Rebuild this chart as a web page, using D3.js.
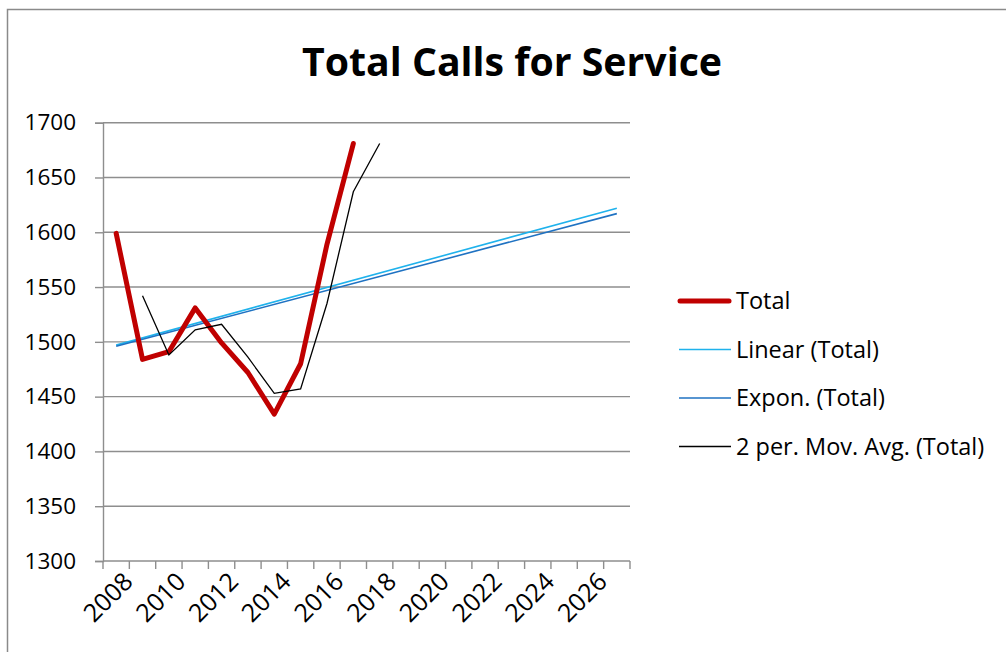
<!DOCTYPE html>
<html>
<head>
<meta charset="utf-8">
<script src="https://cdn.jsdelivr.net/npm/d3@7"></script>
<style>
  html, body { margin: 0; padding: 0; background: #fff; }
  svg { display: block; }
</style>
</head>
<body>
<svg id="chart" width="1006" height="652"></svg>
<script>
// ---- data ----
const categories = d3.range(2008, 2028);               // category axis 2008 … 2027
const tickLabels = ["2008","2010","2012","2014","2016","2018","2020","2022","2024","2026"];
const yTicks = [1300, 1350, 1400, 1450, 1500, 1550, 1600, 1650, 1700];

const totalYears  = [2008, 2009, 2010, 2011, 2012, 2013, 2014, 2015, 2016, 2017];
const totalValues = [1599, 1484, 1491, 1531, 1499, 1472, 1434, 1480, 1589, 1681];

const movAvgYears  = [2009, 2010, 2011, 2012, 2013, 2014, 2015, 2016, 2017, 2018];
const movAvgValues = [1542, 1488, 1511, 1516, 1486, 1453, 1457, 1535, 1637, 1681];

const trendYears   = [2008, 2027];
const linearValues = [1497, 1622];
const exponValues  = [1496, 1617];

const legendLabels = ["Total", "Linear (Total)", "Expon. (Total)", "2 per. Mov. Avg. (Total)"];

// ---- drawing ----
const svg = d3.select("#chart");
const FONT = "'Open Sans', 'Noto Sans', sans-serif";
const GRID = "#8e8e8e";

// outer frame
svg.append("rect").attr("x", 7.5).attr("y", 9.5).attr("width", 1010).attr("height", 660)
  .attr("fill", "none").attr("stroke", "#8a8a8a").attr("stroke-width", 1.5);

// title
svg.append("text").attr("x", 512).attr("y", 76).attr("text-anchor", "middle")
  .attr("font-family", FONT).attr("font-weight", "bold").attr("font-size", 40)
  .attr("textLength", 420).attr("lengthAdjust", "spacingAndGlyphs")
  .attr("fill", "#000").text("Total Calls for Service");

const x = d3.scaleBand().domain(categories).range([103, 630]);
const xc = d => x(d) + x.bandwidth() / 2;
const y = d3.scaleLinear().domain([1300, 1700]).range([561, 122.7]);

// gridlines
svg.append("g").selectAll("line").data(yTicks.filter(t => t > 1300)).join("line")
  .attr("x1", 103).attr("x2", 630).attr("y1", d => y(d)).attr("y2", d => y(d))
  .attr("stroke", GRID).attr("stroke-width", 1.4);

// y axis
const yAxis = d3.axisLeft(y).tickValues(yTicks).tickSize(8).tickPadding(19).tickFormat(d3.format("d"));
const gy = svg.append("g").attr("transform", "translate(103,0)").call(yAxis);
gy.select(".domain").attr("stroke", GRID).attr("stroke-width", 1.4);
gy.selectAll(".tick line").attr("stroke", GRID).attr("stroke-width", 1.4);
gy.selectAll(".tick text").attr("font-family", FONT).attr("font-size", 22.5).attr("fill", "#000");

// x axis: tick marks at category boundaries
const boundaries = categories.map(c => x(c)).concat([630]);
const gx = svg.append("g");
gx.append("line").attr("x1", 103).attr("x2", 630).attr("y1", y(1300)).attr("y2", y(1300))
  .attr("stroke", GRID).attr("stroke-width", 1.4);
gx.selectAll("line.tk").data(boundaries).join("line").attr("class", "tk")
  .attr("x1", d => d).attr("x2", d => d).attr("y1", y(1300)).attr("y2", y(1300) + 8)
  .attr("stroke", GRID).attr("stroke-width", 1.4);
gx.selectAll("text").data(tickLabels).join("text")
  .attr("transform", d => `translate(${xc(+d) + 12},${y(1300) + 16}) rotate(-45)`)
  .attr("text-anchor", "end").attr("dy", "0.35em")
  .attr("font-family", FONT).attr("font-size", 25).attr("fill", "#000").text(d => d);

// series
const line = d3.line().x(d => xc(d[0])).y(d => y(d[1]));
const zip = (a, b) => a.map((v, i) => [v, b[i]]);

svg.append("path").datum(zip(trendYears, linearValues)).attr("d", line)
  .attr("fill", "none").attr("stroke", "#1fb2ec").attr("stroke-width", 1.6);
svg.append("path").datum(zip(trendYears, exponValues)).attr("d", line)
  .attr("fill", "none").attr("stroke", "#1f72c2").attr("stroke-width", 1.6);
svg.append("path").datum(zip(totalYears, totalValues)).attr("d", line)
  .attr("fill", "none").attr("stroke", "#c00000").attr("stroke-width", 5)
  .attr("stroke-linejoin", "round").attr("stroke-linecap", "round");
svg.append("path").datum(zip(movAvgYears, movAvgValues)).attr("d", line)
  .attr("fill", "none").attr("stroke", "#000").attr("stroke-width", 1.3);

// legend
const legendStyles = [
  { color: "#c00000", width: 5, cap: "round" },
  { color: "#1fb2ec", width: 1.6, cap: "butt" },
  { color: "#1f72c2", width: 1.6, cap: "butt" },
  { color: "#000", width: 1.3, cap: "butt" }
];
const lg = svg.append("g");
legendLabels.forEach((lab, i) => {
  const ly = 301 + i * 48.5;
  lg.append("line").attr("x1", i === 0 ? 680 : 679).attr("x2", i === 0 ? 729 : 731)
    .attr("y1", ly).attr("y2", ly)
    .attr("stroke", legendStyles[i].color).attr("stroke-width", legendStyles[i].width)
    .attr("stroke-linecap", legendStyles[i].cap);
  lg.append("text").attr("x", 736).attr("y", ly).attr("dy", "0.35em")
    .attr("font-family", FONT).attr("font-size", 23.5).attr("fill", "#000").text(lab);
});
</script>
</body>
</html>
